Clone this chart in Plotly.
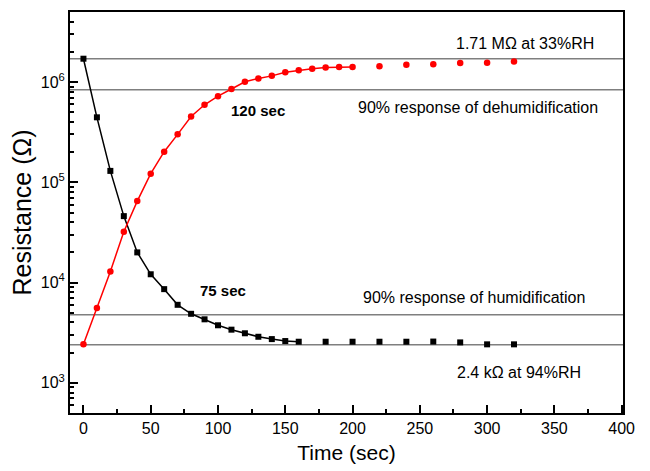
import plotly.graph_objects as go
import numpy as np

# Humidification (black squares), resistance in ohm
t_hum = [0, 10, 20, 30, 40, 50, 60, 70, 80, 90, 100, 110, 120, 130, 140, 150, 160,
         180, 200, 220, 240, 260, 280, 300, 320]
r_hum = [1.71e6, 4.45e5, 1.30e5, 4.6e4, 2.0e4, 1.21e4, 8.6e3, 6.0e3, 4.88e3, 4.3e3,
         3.75e3, 3.39e3, 3.12e3, 2.88e3, 2.73e3, 2.61e3, 2.57e3,
         2.57e3, 2.57e3, 2.57e3, 2.57e3, 2.58e3, 2.53e3, 2.42e3, 2.42e3]
n_hum_line = 17  # points joined by a line (0..160 s)

# Dehumidification (red circles)
t_deh = [0, 10, 20, 30, 40, 50, 60, 70, 80, 90, 100, 110, 120, 130, 140, 150, 160,
         170, 180, 190, 200, 220, 240, 260, 280, 300, 320]
r_deh = [2.43e3, 5.58e3, 1.29e4, 3.22e4, 6.5e4, 1.22e5, 2.02e5, 3.01e5, 4.53e5, 5.94e5,
         7.23e5, 8.53e5, 1.007e6, 1.087e6, 1.153e6, 1.254e6, 1.31e6,
         1.36e6, 1.40e6, 1.41e6, 1.41e6, 1.44e6, 1.49e6, 1.51e6, 1.55e6, 1.56e6, 1.60e6]
n_deh_line = 21  # points joined by a line (0..200 s)

# Reference levels
ref_levels = [1.71e6, 8.4e5, 4.77e3, 2.4e3]

# Annotation texts
labels = ["1.71 MΩ at 33%RH", "90% response of dehumidification",
          "90% response of humidification", "2.4 kΩ at 94%RH"]
label_x = [328, 293.6, 290.6, 323.4]
label_y = [2.42e6, 5.55e5, 7.18e3, 1.256e3]
bold_labels = ["120 sec", "75 sec"]
bold_x = [129.7, 103.6]
bold_y = [5.19e5, 8.41e3]

FONT = "Liberation Sans, Arial, sans-serif"

fig = go.Figure()

fig.add_trace(go.Scatter(x=t_hum[:n_hum_line], y=r_hum[:n_hum_line], mode="lines+markers",
                         line=dict(color="black", width=1.5),
                         marker=dict(symbol="square", size=6, color="black"),
                         showlegend=False))
fig.add_trace(go.Scatter(x=t_hum[n_hum_line:], y=r_hum[n_hum_line:], mode="markers",
                         marker=dict(symbol="square", size=6, color="black"),
                         showlegend=False))
fig.add_trace(go.Scatter(x=t_deh[:n_deh_line], y=r_deh[:n_deh_line], mode="lines+markers",
                         line=dict(color="#ff0000", width=1.5),
                         marker=dict(symbol="circle", size=6.5, color="#ff0000"),
                         showlegend=False))
fig.add_trace(go.Scatter(x=t_deh[n_deh_line:], y=r_deh[n_deh_line:], mode="markers",
                         marker=dict(symbol="circle", size=6.5, color="#ff0000"),
                         showlegend=False))

for lv in ref_levels:
    fig.add_shape(type="line", xref="paper", x0=0, x1=1, yref="y", y0=lv, y1=lv,
                  line=dict(color="#7f7f7f", width=1.5), layer="below")

for txt, x, y in zip(labels, label_x, label_y):
    fig.add_annotation(x=x, y=np.log10(y), text=txt, showarrow=False,
                       font=dict(family=FONT, size=16, color="black"))
for txt, x, y in zip(bold_labels, bold_x, bold_y):
    fig.add_annotation(x=x, y=np.log10(y), text="<b>" + txt + "</b>", showarrow=False,
                       font=dict(family=FONT, size=15, color="black"))

major = [1e3, 1e4, 1e5, 1e6]
minor_vals = [m * 10 ** e for e in range(2, 7) for m in range(2, 10)
              if 500 <= m * 10 ** e <= 5e6]

fig.update_layout(
    width=650, height=471,
    margin=dict(l=70, r=27, t=10, b=55),
    paper_bgcolor="white", plot_bgcolor="white",
    font=dict(family=FONT, size=15, color="black"),
    xaxis=dict(range=[-10, 401], tickmode="linear", tick0=0, dtick=50,
               ticks="inside", ticklen=8, tickwidth=1.5, tickcolor="black",
               minor=dict(ticks="inside", ticklen=4, dtick=25, tick0=0, tickcolor="black", tickwidth=1.5),
               showline=True, linewidth=2, linecolor="black", mirror=True,
               showgrid=False, zeroline=False,
               title=dict(text="Time (sec)", font=dict(family=FONT, size=21), standoff=9),
               tickfont=dict(size=16)),
    yaxis=dict(type="log", range=[np.log10(500), np.log10(5e6)],
               tickvals=major, ticktext=["10<sup>3</sup>", "10<sup>4</sup>", "10<sup>5</sup>", "10<sup>6</sup>"],
               ticks="inside", ticklen=8, tickwidth=1.5, tickcolor="black",
               minor=dict(ticks="inside", ticklen=4, tickvals=minor_vals, tickcolor="black", tickwidth=1.5),
               showline=True, linewidth=2, linecolor="black", mirror=True,
               showgrid=False, zeroline=False,
               title=dict(text="Resistance (Ω)", font=dict(family=FONT, size=25), standoff=2),
               tickfont=dict(size=16)),
)

fig.write_html("out.html")
